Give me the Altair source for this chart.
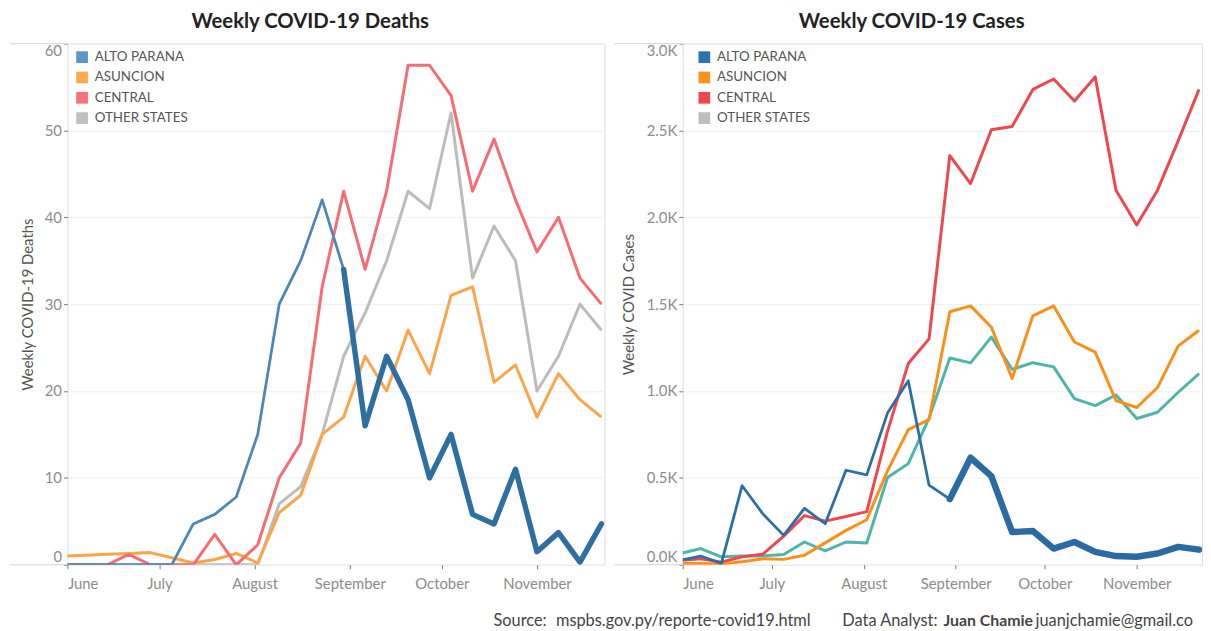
import altair as alt
import pandas as pd

# ---------------- data (weekly, week-ending Sundays) ----------------
dates = ["2020-05-31", "2020-06-07", "2020-06-14", "2020-06-21", "2020-06-28",
         "2020-07-05", "2020-07-12", "2020-07-19", "2020-07-26", "2020-08-02",
         "2020-08-09", "2020-08-16", "2020-08-23", "2020-08-30", "2020-09-06",
         "2020-09-13", "2020-09-20", "2020-09-27", "2020-10-04", "2020-10-11",
         "2020-10-18", "2020-10-25", "2020-11-01", "2020-11-08", "2020-11-15",
         "2020-11-22"]
regions = ["ALTO PARANA", "ASUNCION", "CENTRAL", "OTHER STATES"]

deaths_alto = [0, 0, 0, 0, 0, 0, 4.7, 5.8, 7.8, 15, 30, 35, 42, 34, 16, 24, 19, 10,
               15, 5.8, 4.7, 11, 1.5, 3.7, 0.3, 4.7]
deaths_asuncion = [1, 1.1, 1.2, 1.3, 1.4, 0.8, 0.2, 0.6, 1.3, 0.2, 6, 8, 15, 17, 24,
                   20, 27, 22, 31, 32, 21, 23, 17, 22, 19, 17]
deaths_central = [0, 0, 0, 1.2, 0, 0, 0, 3.5, 0, 2.3, 10, 14, 32, 43, 34, 43, 57.5,
                  57.5, 54, 43, 49, 42, 36, 40, 33, 30]
deaths_other = [0, 0, 0, 0, 0, 0, 0, 0, 0, 0, 7, 9, 15, 24, 29, 35, 43, 41, 52, 33,
                39, 35, 20, 24, 30, 27]

cases_alto = [25, 50, 8, 455, 293, 169, 325, 236, 544, 517, 873, 1059, 458, 378, 616,
              510, 188, 194, 93, 131, 74, 50, 46, 65, 103, 87]
cases_asuncion = [7, 7, 5, 17, 35, 31, 55, 126, 198, 259, 540, 778, 835, 1456, 1490,
                  1367, 1072, 1433, 1490, 1282, 1224, 945, 905, 1020, 1260, 1350]
cases_central = [25, 35, 15, 46, 61, 165, 283, 251, 278, 306, 768, 1158, 1300, 2355,
                 2194, 2504, 2523, 2736, 2796, 2669, 2808, 2156, 1956, 2156, 2441, 2736]
cases_other = [64, 93, 46, 51, 51, 59, 131, 80, 131, 125, 502, 582, 844, 1190, 1162,
               1310, 1125, 1163, 1139, 956, 916, 977, 842, 878, 993, 1100]

month_ticks = [6, 7, 8, 9, 10, 11]
deaths_ticks = [0, 10, 20, 30, 40, 50, 60]
cases_ticks = [0, 500, 1000, 1500, 2000, 2500, 3000]

FONT = "Lato"
THICK_FROM = "2020-08-30"


def long_df(series):
    rows = []
    for reg, vals in series.items():
        for d, v in zip(dates, vals):
            rows.append({"date": d + "T00:00:00", "region": reg, "value": v})
    return pd.DataFrame(rows)


def panel(series, title, title_dx, ytitle, ymax, yticks, label_expr, legend_colors,
          line_colors, blue_thin, blue_thick, thick_w, width, legend_x, axis_ext,
          title_pad, ext_left, footer=False):
    df = long_df(series)
    blue = df[df.region == "ALTO PARANA"]
    thin = blue[blue.date <= THICK_FROM + "T00:00:00"]
    thick = blue[blue.date >= THICK_FROM + "T00:00:00"]
    others = df[df.region != "ALTO PARANA"]
    others = pd.concat([others[others.region == "OTHER STATES"],
                        others[others.region == "ASUNCION"],
                        others[others.region == "CENTRAL"]])

    x = alt.X("date:T", title=None,
              scale=alt.Scale(domain=[alt.DateTime(year=2020, month=6, date=1),
                                      alt.DateTime(year=2020, month=11, date=23)]),
              axis=alt.Axis(values=[alt.DateTime(year=2020, month=m, date=1) for m in month_ticks],
                            format="%B", labelFlush=True, grid=False, domain=False,
                            tickSize=4, tickColor="#777", labelPadding=8,
                            labelFont=FONT, labelFontSize=15, labelColor="#8c8c8c"))
    y = alt.Y("value:Q", title=ytitle,
              scale=alt.Scale(domain=[0, ymax], nice=False, zero=True),
              axis=alt.Axis(values=yticks, labelExpr=label_expr, labelFlush=True,
                            grid=True, gridColor="#efefef", domain=False,
                            tickSize=4, tickColor="#777", labelPadding=2,
                            minExtent=axis_ext, maxExtent=axis_ext, titlePadding=title_pad,
                            labelFont=FONT, labelFontSize=15, labelColor="#8c8c8c",
                            titleFont=FONT, titleFontSize=15, titleFontWeight="normal",
                            titleColor="#555"))

    legend_layer = alt.Chart(df).mark_square(opacity=0, clip=True).encode(
        x=x, y=y,
        color=alt.Color("region:N",
                        scale=alt.Scale(domain=regions, range=legend_colors),
                        legend=alt.Legend(title=None, orient="none", legendX=legend_x,
                                          legendY=7, symbolType="square", symbolSize=140,
                                          symbolStrokeWidth=0, labelFont=FONT,
                                          labelFontSize=13.5, labelColor="#555",
                                          rowPadding=5.5, labelOffset=6, padding=0)))

    lines = alt.Chart(others).mark_line(strokeWidth=3, clip=True, strokeJoin="round").encode(
        x=x, y=y,
        stroke=alt.Stroke("region:N",
                          scale=alt.Scale(domain=regions[1:], range=line_colors),
                          legend=None),
        order=alt.Order("date:T"))
    blue_thin_l = alt.Chart(thin).mark_line(strokeWidth=2.8, clip=True, strokeJoin="round",
                                            color=blue_thin).encode(x=x, y=y)
    blue_thick_l = alt.Chart(thick).mark_line(strokeWidth=thick_w, clip=True,
                                              strokeJoin="round", strokeCap="round",
                                              color=blue_thick).encode(x=x, y=y)

    dummy = pd.DataFrame({"k": [0]})
    top_ext = alt.Chart(dummy).mark_rule(color="#dcdcdc", strokeWidth=1.2).encode(
        x=alt.value(ext_left), x2=alt.value(0), y=alt.value(0))
    bot_ext = alt.Chart(dummy).mark_rule(color="#d4d4d4", strokeWidth=1.2).encode(
        x=alt.value(ext_left), x2=alt.value(0), y=alt.value(526))

    layers = [legend_layer, lines, blue_thin_l, blue_thick_l, top_ext, bot_ext]

    if footer:
        notes = [
            ("Source:", 430, "normal", 16.5),
            ("mspbs.gov.py/reporte-covid19.html", 493, "normal", 16.5),
            ("Data Analyst:", 782, "normal", 16.5),
            ("Juan Chamie", 884, "bold", 16),
        ]
        for txt, px, fw, fs in notes:
            layers.append(alt.Chart(dummy).mark_text(
                align="left", baseline="middle", font=FONT, fontSize=fs, fontWeight=fw,
                color="#444").encode(x=alt.value(px), y=alt.value(583), text=alt.value(txt)))
        layers.append(alt.Chart(dummy).mark_text(
            align="left", baseline="middle", font=FONT, fontSize=16.5, color="#444",
            limit=170, ellipsis=" ").encode(
            x=alt.value(977), y=alt.value(583), text=alt.value("juanjchamie@gmail.com")))

    return alt.layer(*layers).properties(
        width=width, height=526,
        title=alt.TitleParams(title, font=FONT, fontSize=20.5, fontWeight="bold",
                              color="#222", anchor="middle", frame="group", dx=title_dx,
                              offset=11)
    ).resolve_scale(color="independent", stroke="independent")


left = panel(
    {"ALTO PARANA": deaths_alto, "ASUNCION": deaths_asuncion,
     "CENTRAL": deaths_central, "OTHER STATES": deaths_other},
    "Weekly COVID-19 Deaths", -26, "Weekly COVID-19 Deaths", 60, deaths_ticks,
    "datum.label",
    ["#5b97c4", "#fdab4e", "#f7707c", "#c0c0c0"],
    ["#fba54a", "#f76b74", "#bcbcbc"],
    "#4f87b3", "#2d6f9f", 5.5, 542, 8, 26, 6, -58, footer=True)

right = panel(
    {"ALTO PARANA": cases_alto, "ASUNCION": cases_asuncion,
     "CENTRAL": cases_central, "OTHER STATES": cases_other},
    "Weekly COVID-19 Cases", -31, "Weekly COVID Cases", 3000, cases_ticks,
    "format(datum.value / 1000, '.1f') + 'K'",
    ["#2a74b0", "#fa921c", "#f0464e", "#bdbdbd"],
    ["#fa8f1a", "#ef474f", "#4db5a9"],
    "#2b6ea8", "#2a6ba3", 6.5, 524, 15, 40, 7, -69)

chart = alt.hconcat(left, right, spacing=79, bounds="flush").resolve_scale(
    x="independent", y="independent", color="independent", stroke="independent"
).properties(padding=0).configure_view(stroke="#dcdcdc", strokeWidth=1.2).configure(
    background="white")

chart.save("out.html", embed_options={"renderer": "svg", "actions": False})
